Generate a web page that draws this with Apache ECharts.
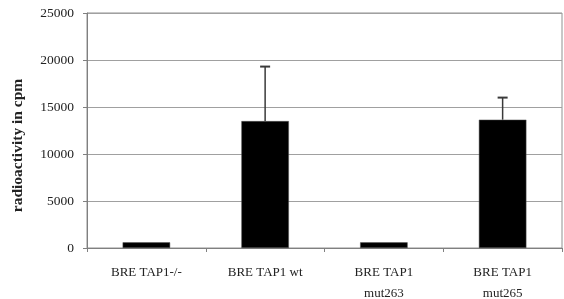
<!DOCTYPE html>
<html>
<head>
<meta charset="utf-8">
<script src="https://cdn.jsdelivr.net/npm/echarts@6/dist/echarts.min.js"></script>
<style>
  html, body { margin: 0; padding: 0; background: #fff; }
  #main { width: 564px; height: 299px; }
</style>
</head>
<body>
<div id="main"></div>
<script>
// categories and values
var categories = ['BRE TAP1-/-', 'BRE TAP1 wt', 'BRE TAP1\nmut263', 'BRE TAP1\nmut265'];
var values = [600, 13500, 600, 13650];
var errorTops = [null, 19300, null, 16000];
var yTicks = [0, 5000, 10000, 15000, 20000, 25000];

var errData = [];
errorTops.forEach(function (top, i) {
  if (top !== null) errData.push([i, values[i], top]);
});

var chart = echarts.init(document.getElementById('main'));
chart.setOption({
  animation: false,
  textStyle: { fontFamily: 'Liberation Serif' },
  grid: {
    left: 87, right: 2, top: 13, bottom: 51,
    outerBoundsMode: 'none', containLabel: false,
    show: true, borderColor: '#909090', borderWidth: 1
  },
  xAxis: {
    type: 'category',
    data: categories,
    axisLine: { lineStyle: { color: '#808080' } },
    axisTick: { show: true, interval: 0, length: 4, lineStyle: { color: '#808080' } },
    axisLabel: { color: '#222', fontSize: 13, interval: 0, margin: 14, lineHeight: 21 },
    splitLine: { show: false }
  },
  yAxis: {
    type: 'value',
    min: 0,
    max: yTicks[yTicks.length - 1],
    interval: 5000,
    name: 'radioactivity in cpm',
    nameLocation: 'middle',
    nameRotate: 90,
    nameGap: 61,
    nameTextStyle: {
      fontFamily: 'Liberation Serif', fontWeight: 'bold', fontSize: 15.5, color: '#222',
      padding: [0, 30, 0, 0]
    },
    axisLine: { show: true, lineStyle: { color: '#808080' } },
    axisTick: { show: true, length: 4, lineStyle: { color: '#808080' } },
    axisLabel: {
      color: '#222', fontSize: 13.5, margin: 13,
      formatter: function (v) { return String(v); }
    },
    splitLine: { lineStyle: { color: '#a0a0a0', width: 1 } }
  },
  series: [
    {
      type: 'bar',
      data: values,
      barWidth: '40%',
      itemStyle: { color: '#000', borderColor: '#555', borderWidth: 0.5 }
    },
    {
      type: 'custom',
      data: errData,
      z: 3,
      renderItem: function (params, api) {
        var base = api.coord([api.value(0), api.value(1)]);
        var top = api.coord([api.value(0), api.value(2)]);
        return {
          type: 'group',
          children: [
            { type: 'line', shape: { x1: base[0], y1: base[1], x2: top[0], y2: top[1] }, style: { stroke: '#3a3a3a', lineWidth: 1.5 } },
            { type: 'line', shape: { x1: top[0] - 5, y1: top[1], x2: top[0] + 5, y2: top[1] }, style: { stroke: '#3a3a3a', lineWidth: 2 } }
          ]
        };
      }
    }
  ]
});
</script>
</body>
</html>
